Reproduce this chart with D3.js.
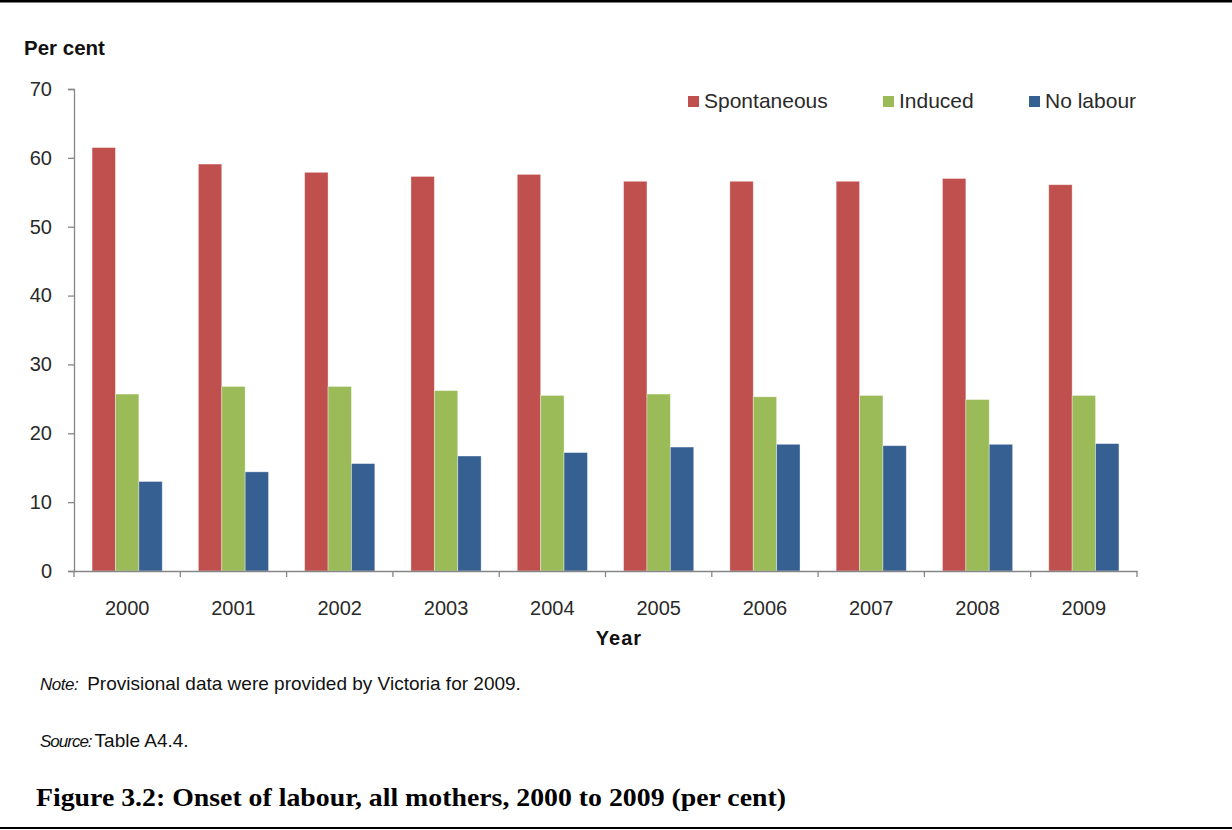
<!DOCTYPE html>
<html>
<head>
<meta charset="utf-8">
<script src="https://cdn.jsdelivr.net/npm/d3@7"></script>
<style>
  html, body { margin: 0; padding: 0; background: #fff; }
  svg { display: block; }
</style>
</head>
<body>
<svg id="chart" width="1232" height="830"></svg>
<script>
// Onset of labour, all mothers, 2000 to 2009 (per cent)
const years = ["2000", "2001", "2002", "2003", "2004", "2005", "2006", "2007", "2008", "2009"];
const seriesNames = ["Spontaneous", "Induced", "No labour"];
const spontaneous = [61.5, 59.1, 57.9, 57.3, 57.6, 56.6, 56.6, 56.6, 57.0, 56.1];
const induced = [25.7, 26.8, 26.8, 26.2, 25.5, 25.7, 25.3, 25.5, 24.9, 25.5];
const noLabour = [13.0, 14.4, 15.6, 16.7, 17.2, 18.0, 18.4, 18.2, 18.4, 18.5];
const yTicks = [0, 10, 20, 30, 40, 50, 60, 70];
const colors = ["#C0504D", "#9BBB59", "#376092"];

const seriesValues = [spontaneous, induced, noLabour];
const rows = years.map((y, i) => ({
  year: y,
  values: seriesNames.map((s, k) => ({ key: s, value: seriesValues[k][i], k }))
}));

const svg = d3.select("#chart");
const W = 1232;

// Page frame rules
svg.append("rect").attr("x", 0).attr("y", 0).attr("width", W).attr("height", 2.5).attr("fill", "#000");
svg.append("rect").attr("x", 0).attr("y", 827).attr("width", W).attr("height", 2).attr("fill", "#000");

const plot = { left: 74, right: 1137, top: 89, bottom: 571 };

const x = d3.scaleBand().domain(years).range([plot.left, plot.right]).paddingInner(0.34).paddingOuter(0.17);
const xInner = d3.scaleBand().domain(seriesNames).range([0, x.bandwidth()]);
const xCat = d3.scaleBand().domain(years).range([plot.left, plot.right]);
const y = d3.scaleLinear().domain([0, 70]).range([plot.bottom, plot.top]);

const sans = "'Liberation Sans', Arial, sans-serif";

// Bars
const groups = svg.append("g").selectAll("g").data(rows).join("g")
  .attr("transform", d => `translate(${x(d.year)},0)`);
groups.selectAll("rect").data(d => d.values).join("rect")
  .attr("x", d => xInner(d.key))
  .attr("y", d => y(d.value))
  .attr("width", xInner.bandwidth())
  .attr("height", d => y(0) - y(d.value))
  .attr("fill", d => colors[d.k])
  .attr("stroke", "rgba(255,255,255,0.45)")
  .attr("stroke-width", 0.8);

// Y axis
const yAxis = d3.axisLeft(y).tickValues(yTicks).tickSize(6).tickPadding(16).tickFormat(d3.format("d"));
const gy = svg.append("g").attr("transform", `translate(${plot.left},0)`).call(yAxis);
gy.select(".domain").attr("stroke", "#868686").attr("stroke-width", 1.3);
gy.selectAll(".tick line").attr("stroke", "#868686").attr("stroke-width", 1.3);
gy.selectAll(".tick text").attr("font-family", sans).attr("font-size", 20).attr("fill", "#2a2a2a");

// X axis with tick marks at category boundaries
const xAxis = d3.axisBottom(xCat).tickSize(0).tickPadding(0);
const gx = svg.append("g").attr("transform", `translate(0,${plot.bottom})`).call(xAxis);
gx.select(".domain").attr("stroke", "#868686").attr("stroke-width", 1.3);
gx.selectAll(".tick text").attr("font-family", sans).attr("font-size", 20).attr("fill", "#2a2a2a")
  .attr("dy", null).attr("y", 44);
const boundaries = years.map(d => xCat(d)).concat([xCat(years[years.length - 1]) + xCat.bandwidth()]);
gx.selectAll(".bound").data(boundaries).join("line").attr("class", "bound")
  .attr("x1", d => d).attr("x2", d => d).attr("y1", 0).attr("y2", 6)
  .attr("stroke", "#868686").attr("stroke-width", 1.3);

// Axis titles
svg.append("text").attr("x", 24).attr("y", 55).text("Per cent")
  .attr("font-family", sans).attr("font-size", 20.5).attr("font-weight", "bold").attr("fill", "#111");
svg.append("text").attr("x", 619).attr("y", 645).attr("text-anchor", "middle").text("Year")
  .attr("font-family", sans).attr("font-size", 20).attr("font-weight", "bold").attr("fill", "#111")
  .attr("letter-spacing", 1);

// Legend
const legendX = [688, 883, 1029];
const legend = svg.append("g").selectAll("g").data(seriesNames).join("g")
  .attr("transform", (d, i) => `translate(${legendX[i]},95)`);
legend.append("rect").attr("y", 1).attr("width", 11).attr("height", 11).attr("fill", (d, i) => colors[i]);
legend.append("text").attr("x", 16).attr("y", 13).text(d => d)
  .attr("font-family", sans).attr("font-size", 21).attr("fill", "#2a2a2a");

// Notes
const note = svg.append("text").attr("x", 40).attr("y", 690)
  .attr("font-family", sans).attr("font-size", 19).attr("fill", "#111");
note.append("tspan").attr("font-style", "italic").attr("font-size", 17).attr("letter-spacing", -0.5).text("Note:");
note.append("tspan").attr("dx", 9).attr("letter-spacing", 0).text("Provisional data were provided by Victoria for 2009.");
const source = svg.append("text").attr("x", 40).attr("y", 747)
  .attr("font-family", sans).attr("font-size", 19).attr("fill", "#111");
source.append("tspan").attr("font-style", "italic").attr("font-size", 17).attr("letter-spacing", -1).text("Source:");
source.append("tspan").attr("dx", 3).attr("letter-spacing", 0).text("Table A4.4.");

// Figure caption
svg.append("text").attr("x", 36).attr("y", 806)
  .text("Figure 3.2: Onset of labour, all mothers, 2000 to 2009 (per cent)")
  .attr("font-family", "'Liberation Serif', 'Times New Roman', serif")
  .attr("font-size", 24.5).attr("font-weight", "bold").attr("fill", "#000")
  .attr("textLength", 750).attr("lengthAdjust", "spacingAndGlyphs");
</script>
</body>
</html>
